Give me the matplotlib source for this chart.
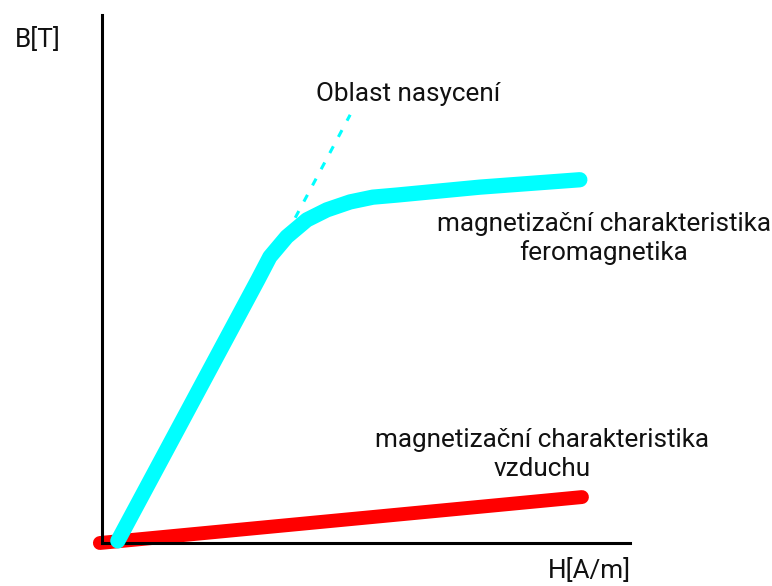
import numpy as np
import matplotlib
matplotlib.use('Agg')
import matplotlib.pyplot as plt

plt.rcParams['font.family'] = ['Roboto', 'DejaVu Sans']

# ferromagnetic magnetization curve (H, B) in arbitrary units
h_fero = [0.30, 2.95, 3.18, 3.50, 3.88, 4.26, 4.70, 5.13, 5.59, 7.16, 9.05]
b_fero = [0.04, 4.98, 5.42, 5.80, 6.12, 6.31, 6.46, 6.55, 6.59, 6.74, 6.88]

# air - straight line
h_air = [-0.04, 9.09]
b_air = [0.00, 0.87]

# dashed extension of the linear part (saturation hint)
h_sat = [3.66, 4.70]
b_sat = [6.16, 8.11]

W, H = 772, 586
fig = plt.figure(figsize=(W/100, H/100), dpi=100)
ax = fig.add_axes([102/W, (H-543)/H, 528/W, 528/H])
ax.set_xlim(0, 10)
ax.set_ylim(0, 10)

ax.plot(h_air, b_air, color='#ff0000', lw=10, solid_capstyle='round', clip_on=False, zorder=2)
ax.plot(h_fero, b_fero, color='#00ffff', lw=11, solid_capstyle='round', solid_joinstyle='round',
        clip_on=False, zorder=3)
ax.plot(h_sat, b_sat, color='#00ffff', lw=2.2, dashes=(2.5, 3.5), clip_on=False, zorder=3)

for s in ['top', 'right']:
    ax.spines[s].set_visible(False)
ax.spines['left'].set_linewidth(2.2)
ax.spines['bottom'].set_linewidth(2.2)
ax.set_xticks([])
ax.set_yticks([])

def px(x, y):
    return x/W, 1 - y/H

fs = 18.8
kw = dict(fontsize=fs, va='baseline', color='#111111')
fig.text(*px(15, 47), 'B[T]', ha='left', **kw)
fig.text(*px(548, 578), 'H[A/m]', ha='left', **kw)
fig.text(*px(316, 101), 'Oblast nasycení', ha='left', **kw)
fig.text(*px(604, 231), 'magnetizační charakteristika', ha='center', **kw)
fig.text(*px(604, 260), 'feromagnetika', ha='center', **kw)
fig.text(*px(542, 447), 'magnetizační charakteristika', ha='center', **kw)
fig.text(*px(542, 476), 'vzduchu', ha='center', **kw)

fig.savefig('out.png', dpi=100)
